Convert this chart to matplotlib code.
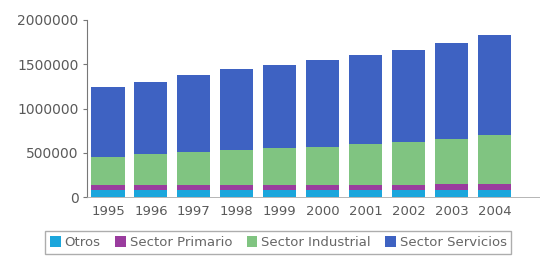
import matplotlib
matplotlib.use("Agg")
import matplotlib.pyplot as plt
import numpy as np

plt.rcParams['font.family'] = ['DejaVu Sans']

# datos
anios = ['1995', '1996', '1997', '1998', '1999', '2000', '2001', '2002', '2003', '2004']
otros = [85000, 85000, 85000, 85000, 85000, 85000, 85000, 85000, 85000, 85000]
primario = [55000, 55000, 55000, 55000, 55000, 55000, 55000, 55000, 60000, 60000]
industrial = [312000, 346000, 370000, 390000, 410000, 425000, 460000, 480000, 515000, 555000]
servicios = [791000, 814000, 870000, 916000, 940000, 983000, 1005000, 1040000, 1080000, 1130000]

colores = ['#1ba6dc', '#9a3c9e', '#80c481', '#3e62c2']
nombres = ['Otros', 'Sector Primario', 'Sector Industrial', 'Sector Servicios']

fig = plt.figure(figsize=(5.4, 2.59), dpi=100)
ax = fig.add_axes([0.161, 0.239, 0.839, 0.684])

x = np.arange(len(anios))
base = np.zeros(len(anios))
for serie, col, nom in zip([otros, primario, industrial, servicios], colores, nombres):
    ax.bar(x, serie, width=0.77, bottom=base, color=col, label=nom, edgecolor='none')
    base = base + np.array(serie)

ax.set_xlim(-0.49, 10.06)
ax.set_ylim(0, 2000000)
ax.set_yticks([0, 500000, 1000000, 1500000, 2000000])
ax.set_yticklabels(['0', '500000', '1000000', '1500000', '2000000'])
ax.set_xticks(x)
ax.set_xticklabels(anios)

for s in ['top', 'right']:
    ax.spines[s].set_visible(False)
ax.spines['left'].set_color('#777777')
ax.spines['bottom'].set_color('#aaaaaa')
ax.spines['bottom'].set_linewidth(0.6)
ax.tick_params(axis='y', colors='#777777', labelcolor='#5a5a5a', labelsize=10, length=3, pad=3)
ax.tick_params(axis='x', length=0, labelcolor='#5a5a5a', labelsize=9.5, pad=6)

leg = fig.legend(loc='lower left', bbox_to_anchor=(0.072, -0.005), ncol=4, fontsize=9.5,
                 frameon=True, fancybox=False, edgecolor='#999999', handlelength=0.8,
                 handleheight=0.8, handletextpad=0.3, columnspacing=1.1, borderpad=0.35)
for t in leg.get_texts():
    t.set_color('#666666')

plt.savefig('out.png', dpi=100)
